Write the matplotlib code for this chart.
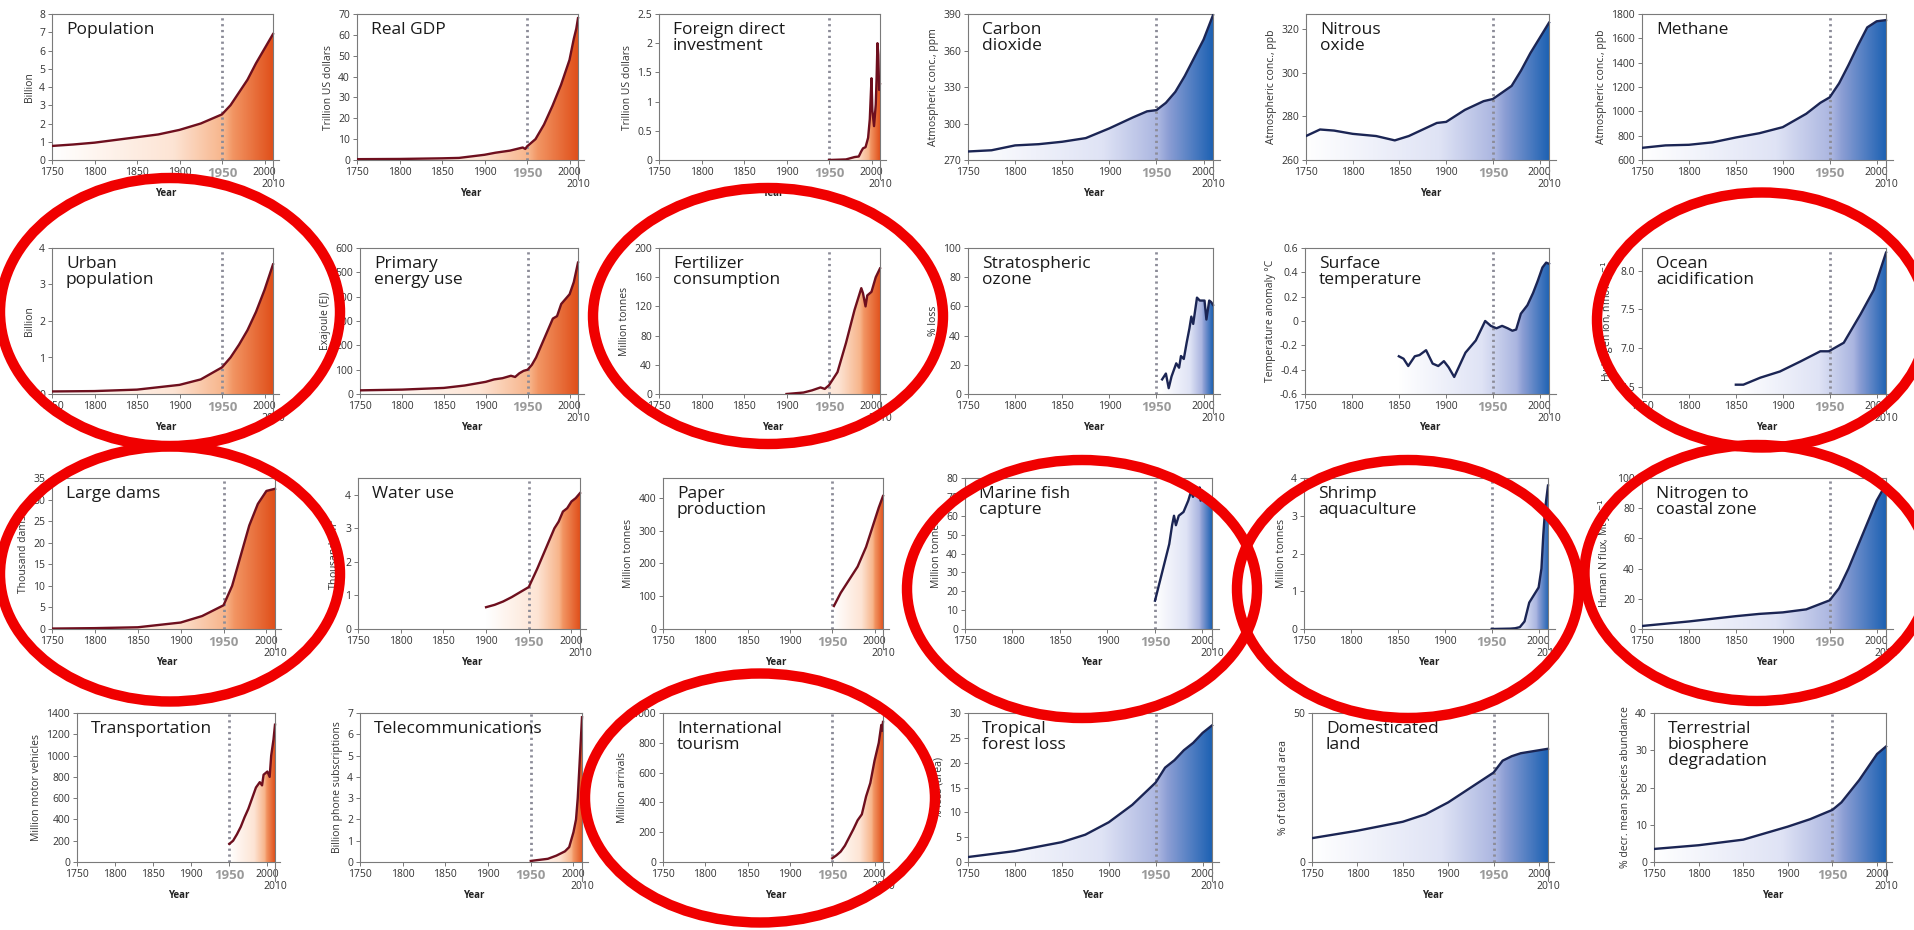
import matplotlib
matplotlib.use("Agg")
import matplotlib.pyplot as plt
import numpy as np
from matplotlib.colors import LinearSegmentedColormap
from matplotlib.patches import Polygon, Ellipse

plt.rcParams['font.family'] = ['Open Sans', 'DejaVu Sans']

# ---- data ----
pop_years = [1750, 1775, 1800, 1825, 1850, 1875, 1900, 1925, 1950, 1960, 1970, 1980, 1990, 2000, 2010]
pop_vals = [0.77, 0.85, 0.95, 1.1, 1.25, 1.4, 1.65, 2.0, 2.5, 3.0, 3.7, 4.4, 5.3, 6.1, 6.9]

gdp_years = [1750, 1800, 1850, 1870, 1900, 1913, 1930, 1940, 1945, 1948, 1950, 1960, 1970, 1980, 1990, 2000, 2005, 2008, 2010]
gdp_vals = [0.4, 0.5, 0.8, 1.0, 2.5, 3.5, 4.5, 5.5, 6.0, 5.3, 6.5, 10, 17, 26, 36, 48, 58, 63, 68]

fdi_years = [1950, 1970, 1980, 1985, 1988, 1990, 1993, 1996, 1998, 2000, 2001, 2003, 2005, 2006, 2007, 2008, 2009, 2010]
fdi_vals = [0.0, 0.01, 0.05, 0.06, 0.15, 0.2, 0.22, 0.38, 0.7, 1.4, 0.85, 0.58, 0.95, 1.4, 2.0, 1.8, 1.2, 1.3]

co2_years = [1750, 1775, 1800, 1825, 1850, 1875, 1900, 1925, 1940, 1950, 1960, 1970, 1980, 1990, 2000, 2010]
co2_vals = [277, 278, 282, 283, 285, 288, 296, 305, 310, 311, 317, 326, 339, 354, 369, 389]

n2o_years = [1750, 1765, 1780, 1800, 1825, 1845, 1860, 1875, 1890, 1900, 1920, 1940, 1950, 1960, 1970, 1980, 1990, 2000, 2010]
n2o_vals = [271, 274, 273.5, 272, 271, 269, 271, 274, 277, 277.5, 283, 287, 288, 291, 294, 301, 309, 316, 323]

ch4_years = [1750, 1775, 1800, 1825, 1850, 1875, 1900, 1925, 1940, 1950, 1960, 1970, 1980, 1990, 2000, 2010]
ch4_vals = [700, 720, 725, 745, 785, 820, 870, 980, 1070, 1115, 1230, 1380, 1540, 1690, 1740, 1750]

urb_years = [1750, 1800, 1850, 1900, 1925, 1950, 1960, 1970, 1980, 1990, 2000, 2010]
urb_vals = [0.07, 0.08, 0.12, 0.25, 0.4, 0.73, 1.0, 1.35, 1.75, 2.25, 2.85, 3.55]

energy_years = [1750, 1800, 1850, 1875, 1900, 1910, 1920, 1930, 1935, 1940, 1945, 1950, 1955, 1960, 1970, 1980, 1985, 1990, 2000, 2005, 2010]
energy_vals = [15, 18, 25, 35, 50, 60, 65, 75, 70, 85, 95, 100, 120, 150, 230, 310, 320, 370, 410, 460, 540]

fert_years = [1900, 1910, 1920, 1930, 1940, 1945, 1950, 1960, 1970, 1980, 1988, 1990, 1993, 1995, 2000, 2005, 2010]
fert_vals = [0, 1, 2, 5, 9, 7, 12, 30, 70, 115, 145, 138, 120, 135, 140, 160, 172]

ozone_years = [1956, 1960, 1963, 1966, 1971, 1974, 1976, 1979, 1982, 1985, 1987, 1989, 1993, 1996, 2001, 2003, 2006, 2008, 2010]
ozone_vals = [10, 14, 4, 12, 21, 18, 26, 24, 35, 45, 53, 48, 66, 64, 64, 51, 64, 63, 61]

temp_years = [1850, 1855, 1860, 1867, 1872, 1879, 1886, 1892, 1898, 1903, 1909, 1915, 1921, 1932, 1942, 1948, 1954, 1960, 1966, 1971, 1975, 1980, 1987, 1993, 1998, 2003, 2007, 2010]
temp_vals = [-0.29, -0.31, -0.37, -0.29, -0.28, -0.24, -0.35, -0.37, -0.33, -0.38, -0.46, -0.36, -0.26, -0.16, 0.0, -0.04, -0.06, -0.04, -0.06, -0.08, -0.07, 0.06, 0.13, 0.23, 0.33, 0.44, 0.48, 0.47]

ocean_years = [1850, 1858, 1876, 1897, 1919, 1940, 1949, 1965, 1983, 1997, 2010]
ocean_vals = [6.53, 6.53, 6.62, 6.70, 6.83, 6.96, 6.96, 7.07, 7.44, 7.75, 8.23]

dams_years = [1750, 1800, 1850, 1900, 1925, 1950, 1960, 1970, 1980, 1990, 2000, 2010]
dams_vals = [0.1, 0.2, 0.4, 1.5, 3.0, 5.5, 10, 17, 24, 29, 32, 32.5]

water_years = [1900, 1910, 1920, 1930, 1940, 1950, 1960, 1970, 1980, 1985, 1990, 1995, 2000, 2005, 2010]
water_vals = [0.65, 0.72, 0.82, 0.95, 1.1, 1.25, 1.8, 2.4, 3.0, 3.2, 3.5, 3.6, 3.8, 3.9, 4.05]

paper_years = [1952, 1960, 1970, 1980, 1990, 2000, 2005, 2010]
paper_vals = [70, 110, 150, 190, 250, 330, 370, 405]

fish_years = [1950, 1955, 1960, 1965, 1968, 1970, 1972, 1975, 1980, 1985, 1988, 1990, 1993, 1995, 1997, 1998, 2000, 2003, 2005, 2008, 2010]
fish_vals = [15, 25, 35, 45, 55, 60, 55, 60, 62, 68, 73, 70, 73, 72, 75, 68, 73, 70, 68, 67, 65]

shrimp_years = [1950, 1970, 1975, 1980, 1985, 1988, 1990, 1995, 2000, 2003, 2005, 2007, 2010]
shrimp_vals = [0.0, 0.01, 0.02, 0.05, 0.2, 0.5, 0.7, 0.9, 1.1, 1.6, 2.5, 3.2, 3.8]

nitro_years = [1750, 1800, 1850, 1875, 1900, 1925, 1950, 1960, 1970, 1980, 1990, 2000, 2010]
nitro_vals = [2, 5, 8.5, 10, 11, 13, 19, 27, 40, 55, 70, 85, 96]

car_years = [1950, 1955, 1960, 1965, 1970, 1975, 1980, 1985, 1990, 1993, 1995, 2000, 2003, 2005, 2008, 2010]
car_vals = [170, 200, 260, 330, 420, 500, 600, 700, 750, 720, 820, 850, 800, 1000, 1150, 1290]

phone_years = [1950, 1960, 1970, 1980, 1990, 1995, 2000, 2003, 2005, 2007, 2010]
phone_vals = [0.05, 0.1, 0.15, 0.3, 0.5, 0.7, 1.4, 2.0, 3.0, 4.5, 6.8]

tour_years = [1950, 1955, 1960, 1965, 1970, 1975, 1980, 1985, 1990, 1995, 2000, 2005, 2008, 2009, 2010]
tour_vals = [25, 45, 70, 110, 165, 220, 280, 320, 440, 530, 680, 800, 920, 880, 940]

forest_years = [1750, 1800, 1850, 1875, 1900, 1925, 1950, 1960, 1970, 1980, 1990, 2000, 2010]
forest_vals = [1, 2.2, 4, 5.5, 8, 11.5, 16, 19, 20.5, 22.5, 24, 26, 27.5]

land_years = [1750, 1800, 1850, 1875, 1900, 1925, 1950, 1960, 1970, 1980, 1990, 2000, 2010]
land_vals = [8, 10.5, 13.5, 16, 20, 25, 30, 34, 35.5, 36.5, 37, 37.5, 38]

bio_years = [1750, 1800, 1850, 1900, 1925, 1950, 1960, 1970, 1980, 1990, 2000, 2010]
bio_vals = [3.5, 4.5, 6, 9.5, 11.5, 14, 16, 19, 22, 25.5, 29, 31]

# (title, ylabel, years, values, ylim, yticks, yticklabels, colour family)
panels = [
    ("Population", "Billion", pop_years, pop_vals, (0, 8), range(0, 9), None, "red"),
    ("Real GDP", "Trillion US dollars", gdp_years, gdp_vals, (0, 70), range(0, 71, 10), None, "red"),
    ("Foreign direct\ninvestment", "Trillion US dollars", fdi_years, fdi_vals, (0, 2.5),
     [0, 0.5, 1, 1.5, 2, 2.5], ["0", "0.5", "1", "1.5", "2", "2.5"], "red"),
    ("Carbon\ndioxide", "Atmospheric conc., ppm", co2_years, co2_vals, (270, 390), range(270, 391, 30), None, "blue"),
    ("Nitrous\noxide", "Atmospheric conc., ppb", n2o_years, n2o_vals, (260, 327), range(260, 321, 20), None, "blue"),
    ("Methane", "Atmospheric conc., ppb", ch4_years, ch4_vals, (600, 1800), range(600, 1801, 200), None, "blue"),
    ("Urban\npopulation", "Billion", urb_years, urb_vals, (0, 4), range(0, 5), None, "red"),
    ("Primary\nenergy use", "Exajoule (EJ)", energy_years, energy_vals, (0, 600), range(0, 601, 100), None, "red"),
    ("Fertilizer\nconsumption", "Million tonnes", fert_years, fert_vals, (0, 200), range(0, 201, 40), None, "red"),
    ("Stratospheric\nozone", "% loss", ozone_years, ozone_vals, (0, 100), range(0, 101, 20), None, "blue"),
    ("Surface\ntemperature", "Temperature anomaly °C", temp_years, temp_vals, (-0.6, 0.6),
     [-0.6, -0.4, -0.2, 0, 0.2, 0.4, 0.6], ["-0.6", "-0.4", "-0.2", "0", "0.2", "0.4", "0.6"], "blue"),
    ("Ocean\nacidification", "Hydrogen ion, nmol kg$^{-1}$", ocean_years, ocean_vals, (6.41, 8.29),
     [6.5, 7.0, 7.5, 8.0], ["6.5", "7.0", "7.5", "8.0"], "blue"),
    ("Large dams", "Thousand dams", dams_years, dams_vals, (0, 35), range(0, 36, 5), None, "red"),
    ("Water use", "Thousand km$^3$", water_years, water_vals, (0, 4.5), range(0, 5), None, "red"),
    ("Paper\nproduction", "Million tonnes", paper_years, paper_vals, (0, 460), range(0, 401, 100), None, "red"),
    ("Marine fish\ncapture", "Million tonnes", fish_years, fish_vals, (0, 80), range(0, 81, 10), None, "blue"),
    ("Shrimp\naquaculture", "Million tonnes", shrimp_years, shrimp_vals, (0, 4), range(0, 5), None, "blue"),
    ("Nitrogen to\ncoastal zone", "Human N flux, Mt yr$^{-1}$", nitro_years, nitro_vals, (0, 100), range(0, 101, 20), None, "blue"),
    ("Transportation", "Million motor vehicles", car_years, car_vals, (0, 1400), range(0, 1401, 200), None, "red"),
    ("Telecommunications", "Billion phone subscriptions", phone_years, phone_vals, (0, 7), range(0, 8), None, "red"),
    ("International\ntourism", "Million arrivals", tour_years, tour_vals, (0, 1000), range(0, 1001, 200), None, "red"),
    ("Tropical\nforest loss", "% loss (area)", forest_years, forest_vals, (0, 30), range(0, 31, 5), None, "blue"),
    ("Domesticated\nland", "% of total land area", land_years, land_vals, (0, 50), [0, 50], None, "blue"),
    ("Terrestrial\nbiosphere\ndegradation", "% decr. mean species abundance", bio_years, bio_vals, (0, 40), range(0, 41, 10), None, "blue"),
]

# layout in pixels: (left, x of 2010) per panel, (top, bottom) per row
W, H = 1914, 930
row_tb = [(14, 160), (248, 394), (478, 629), (713, 862)]
col_lr = [
    [(52, 273), (357, 578), (659, 880), (968, 1213), (1306, 1549), (1642, 1886)],
    [(52, 273), (360, 578), (659, 880), (968, 1213), (1305, 1549), (1642, 1886)],
    [(52, 275), (358, 580), (663, 883), (965, 1212), (1304, 1548), (1642, 1886)],
    [(77, 275), (360, 582), (663, 883), (968, 1212), (1312, 1548), (1654, 1886)],
]
x_ext = 7  # bottom axis runs a little past 2010
# red rings: centre x, centre y, width, height (pixels)
rings = [(170, 312, 340, 268), (768, 316, 350, 256), (1762, 320, 330, 255),
         (170, 574, 340, 255), (1082, 589, 350, 258), (1408, 589, 342, 258),
         (1757, 573, 345, 256), (760, 798, 350, 249)]

red_cmap = LinearSegmentedColormap.from_list(
    "redfade", [(0, "#ffffff"), (0.55, "#fde4d4"), (0.78, "#f7b48a"), (0.82, "#f29563"), (1, "#e0501b")])
blue_cmap = LinearSegmentedColormap.from_list(
    "bluefade", [(0, "#ffffff"), (0.55, "#dfe3f5"), (0.78, "#aab5e0"), (0.82, "#8c9ed4"), (1, "#1e62b3")])
spine_col = "#7a7a7a"

fig = plt.figure(figsize=(W / 100, H / 100), dpi=100)

for i, (title, ylabel, years, vals, ylim, yticks, yticklabels, kind) in enumerate(panels):
    r, c = divmod(i, 6)
    left, right = col_lr[r][c]
    top, bottom = row_tb[r]
    width = (right - left) * (260 + x_ext) / 260
    ax = fig.add_axes([left / W, 1 - bottom / H, width / W, (bottom - top) / H])

    cmap = red_cmap if kind == "red" else blue_cmap
    line_color = "#6e0f1e" if kind == "red" else "#1b2554"

    # gradient fill under the curve
    x0 = years[0]
    grad = np.linspace(0, 1, 256).reshape(1, -1)
    im = ax.imshow(grad, extent=[x0, 2010, ylim[0], ylim[1]], aspect="auto", cmap=cmap,
                   origin="lower", zorder=1, interpolation="bilinear")
    verts = [(x0, ylim[0])] + list(zip(years, vals)) + [(years[-1], ylim[0])]
    poly = Polygon(verts, closed=True, facecolor="none", edgecolor="none")
    ax.add_patch(poly)
    im.set_clip_path(poly)

    ax.axvline(1950, color="#8c8c98", lw=2, ls=(0, (0.8, 1.3)), zorder=2.5)
    ax.plot(years, vals, color=line_color, lw=1.7, zorder=3)

    ax.set_xlim(1750, 2010 + x_ext)
    ax.set_ylim(*ylim)
    ax.set_xticks(range(1750, 2001, 50))
    ax.set_yticks(list(yticks))
    if yticklabels is not None:
        ax.set_yticklabels(yticklabels)
    ax.tick_params(labelsize=7.5, length=3, width=0.7, color="#777777", labelcolor="#333333", pad=2)
    for lab in ax.get_xticklabels():
        if lab.get_text() == "1950":
            lab.set_color("#9a9a9a")
            lab.set_fontweight("bold")
            lab.set_fontsize(9.5)
    for sp in ax.spines.values():
        sp.set_color(spine_col)
        sp.set_linewidth(0.8)
    ax.spines["right"].set_visible(False)
    ax.spines["top"].set_bounds(1750, 2010)
    # right frame edge at 2010, running down past the axis as a tick
    ax.plot([2010, 2010], [1, -0.13], color=spine_col, lw=0.8,
            transform=ax.get_xaxis_transform(), clip_on=False, zorder=4)

    ax.set_ylabel(ylabel, fontsize=7.5, color="#333333", labelpad=3)
    ax.annotate("Year", xy=(0.5, 0), xycoords="axes fraction", xytext=(0, -20),
                textcoords="offset points", ha="center", va="top", fontsize=7,
                fontweight="bold", color="#222222")
    ax.annotate("2010", xy=(2010, 0), xycoords=("data", "axes fraction"), xytext=(0, -14),
                textcoords="offset points", ha="center", va="top", fontsize=7.5, color="#333333")
    ax.annotate(title, xy=(0, 1), xycoords="axes fraction", xytext=(10, -6),
                textcoords="offset points", ha="left", va="top", fontsize=12.5,
                color="#1a1a1a", linespacing=1.0, zorder=5)

for cx, cy, w, h in rings:
    e = Ellipse((cx / W, 1 - cy / H), w / W, h / H, transform=fig.transFigure,
                fill=False, edgecolor="#f00000", lw=7.5, zorder=10)
    fig.add_artist(e)

fig.savefig("out.png", dpi=100)
